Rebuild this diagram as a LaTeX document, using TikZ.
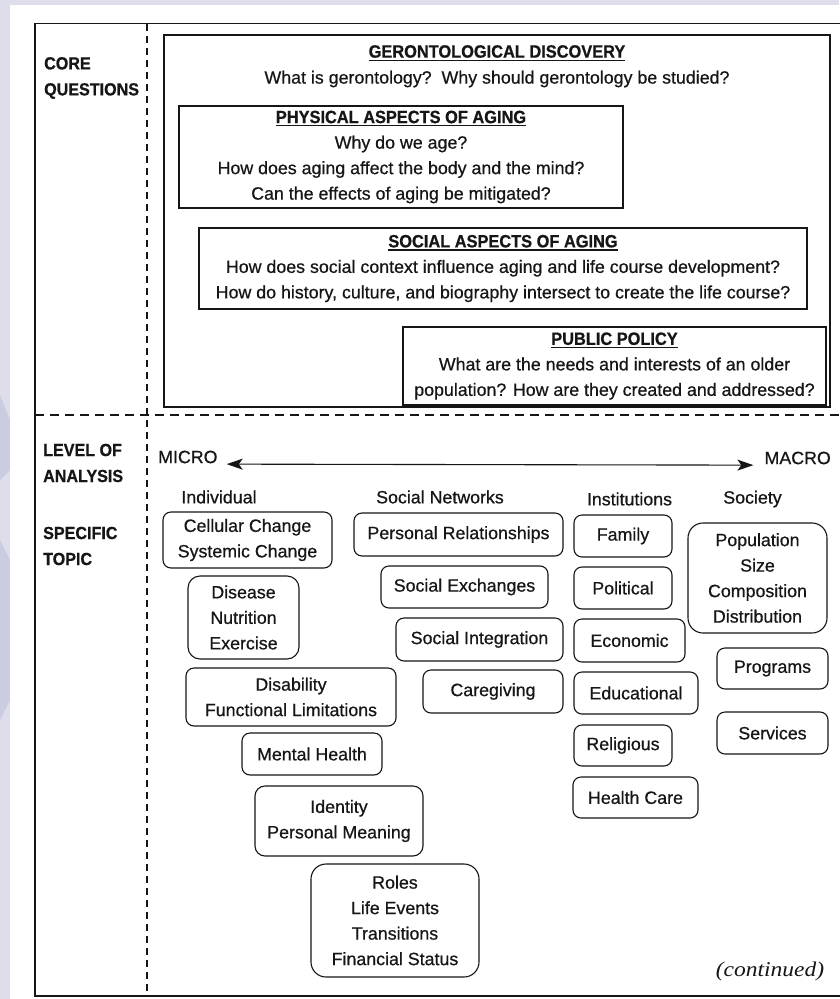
\documentclass[tikz,border=0pt]{standalone}
\usepackage{fontspec}
\setmainfont{Liberation Sans}[FakeBold=0.6]
\newfontfamily\hbf{Liberation Sans}[FakeStretch=0.92,FakeBold=0.8]
\newfontfamily\contfont{Liberation Serif}[FakeStretch=1.12]
\usetikzlibrary{arrows.meta}
\definecolor{lav}{RGB}{221,221,236}
\definecolor{lavd}{RGB}{203,203,225}
\definecolor{ink}{RGB}{22,22,22}
\newcommand\ttl[1]{\setbox0=\hbox{\hbf\bfseries #1}\dimen0=\wd0\leavevmode\rlap{\box0}\rule[-3.2pt]{\dimen0}{1.2pt}}
\begin{document}
\begin{tikzpicture}[x=1pt,y=-1pt,
  txt/.style={inner sep=0pt, align=center, text=ink, font=\fontsize{17.8}{25.5}\selectfont},
  lbl/.style={inner sep=0pt, align=left, text=ink, font=\hbf\bfseries\fontsize{17.5}{26}\selectfont},
  qbox/.style={txt, draw=ink, line width=1.1pt},
  topic/.style={txt, draw=ink, line width=1.1pt, rounded corners=8pt},
  frame/.style={draw=ink, line width=1.8pt},
  vdash/.style={draw=ink, line width=1.8pt, dash pattern=on 7pt off 5pt},
  hdash/.style={draw=ink, line width=1.5pt, dash pattern=on 9pt off 6pt},
  scale arrow/.style={draw=ink, line width=1.1pt, {Stealth[length=16pt,width=11pt,inset=4pt]}-{Stealth[length=16pt,width=11pt,inset=4pt]}}
]
\useasboundingbox (0,0) rectangle (839,999);
% background
\fill[lav] (0,0) rectangle (839,999);
\fill[lavd] (0,395) -- (10,420) -- (10,470) -- (0,480) -- cycle;
\fill[lavd] (0,540) -- (10,560) -- (10,700) -- (0,720) -- cycle;
\fill[white] (10,5) rectangle (839,999);

% frame and dividers
\draw[frame] (845,23.5) -- (35,23.5) -- (35,996) -- (845,996);
\draw[vdash] (147,23.5) -- (147,996);
\draw[hdash] (35,415) -- (845,415);

% left labels
\node[lbl, anchor=west] (cq) at (44,78) {CORE\\QUESTIONS};
\node[lbl, anchor=west] (la) at (43,463) {LEVEL OF\\ANALYSIS};
\node[lbl, anchor=west] (st) at (43,546) {SPECIFIC\\TOPIC};

% core questions
\node[qbox, minimum width=666pt, minimum height=372pt] (core) at (497,221) {};
\node[txt] (gtitle) at (497,53) {\ttl{GERONTOLOGICAL DISCOVERY}};
\node[txt] (gq) at (497,79) {What is gerontology?\ \ Why should gerontology be studied?};
\node[qbox, minimum width=444pt, minimum height=102pt] (phys) at (401,157)
  {\ttl{PHYSICAL ASPECTS OF AGING}\\Why do we age?\\How does aging affect the body and the mind?\\Can the effects of aging be mitigated?};
\node[qbox, minimum width=608pt, minimum height=81pt] (soc) at (503,268.5)
  {\ttl{SOCIAL ASPECTS OF AGING}\\How does social context influence aging and life course development?\\How do history, culture, and biography intersect to create the life course?};
\node[qbox, minimum width=423pt, minimum height=78pt] (pub) at (614.5,366)
  {\ttl{PUBLIC POLICY}\\What are the needs and interests of an older\\population? How are they created and addressed?};

% level of analysis
\node[txt, anchor=west] (micro) at (158,457) {MICRO};
\node[txt, anchor=east] (macro) at (831,458) {MACRO};
\draw[scale arrow] ([xshift=9pt,yshift=-1pt]micro.base east) -- ([xshift=-11pt,yshift=-1pt]macro.base west);

% column headers
\node[txt] (hind) at (219,497) {Individual};
\node[txt] (hsn) at (440,497) {Social Networks};
\node[txt] (hinst) at (629.5,499) {Institutions};
\node[txt] (hsoc) at (752.5,499) {Society};

% individual
\node[topic, minimum width=169pt, minimum height=56pt] (cell) at (247.5,540) {Cellular Change\\Systemic Change};
\node[topic, rounded corners=12pt, minimum width=111pt, minimum height=83pt] (dis) at (243.5,617.5) {Disease\\Nutrition\\Exercise};
\node[topic, minimum width=210pt, minimum height=58pt] (disab) at (291,697) {Disability\\Functional Limitations};
\node[topic, minimum width=140pt, minimum height=42pt] (mh) at (312,754) {Mental Health};
\node[topic, rounded corners=10pt, minimum width=168pt, minimum height=70pt] (ident) at (339,821) {Identity\\Personal Meaning};
\node[topic, rounded corners=15pt, minimum width=168pt, minimum height=113pt] (roles) at (395,920.5) {Roles\\Life Events\\Transitions\\Financial Status};

% social networks
\node[topic, minimum width=209pt, minimum height=43pt] (pers) at (458.5,534.5) {Personal Relationships};
\node[topic, minimum width=167pt, minimum height=42pt] (exch) at (464.5,587) {Social Exchanges};
\node[topic, minimum width=167pt, minimum height=43pt] (integ) at (479.5,639.5) {Social Integration};
\node[topic, minimum width=140pt, minimum height=43pt] (care) at (493,691.5) {Caregiving};

% institutions
\node[topic, minimum width=98pt, minimum height=42pt] (fam) at (623,536) {Family};
\node[topic, minimum width=98pt, minimum height=42pt] (pol) at (623,588) {Political};
\node[topic, minimum width=111pt, minimum height=43pt] (econ) at (629.5,640.5) {Economic};
\node[topic, minimum width=124pt, minimum height=42pt] (educ) at (636,693) {Educational};
\node[topic, minimum width=98pt, minimum height=41pt] (rel) at (623,745.5) {Religious};
\node[topic, minimum width=125pt, minimum height=41pt] (hc) at (635.5,797.5) {Health Care};

% society
\node[topic, rounded corners=15pt, minimum width=139pt, minimum height=110pt] (popl) at (757.5,578) {Population\\Size\\Composition\\Distribution};
\node[topic, minimum width=111pt, minimum height=41pt] (prog) at (772.5,668.5) {Programs};
\node[topic, minimum width=111pt, minimum height=42pt] (serv) at (772.5,733) {Services};

\node[inner sep=0pt, text=ink, font=\contfont\itshape\fontsize{21}{24}\selectfont] (cont) at (770,971) {(continued)};
\end{tikzpicture}
\end{document}
